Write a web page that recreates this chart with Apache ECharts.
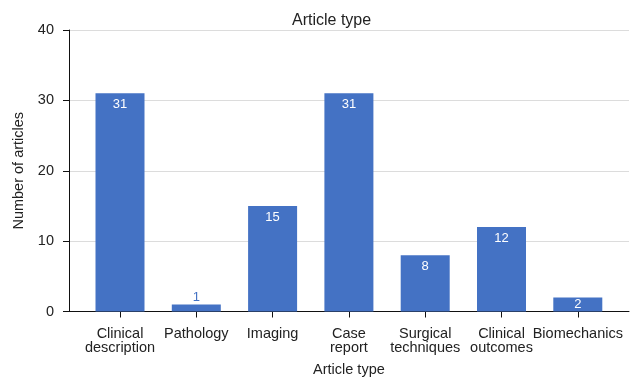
<!DOCTYPE html>
<html>
<head>
<meta charset="utf-8">
<script src="https://cdn.jsdelivr.net/npm/echarts@6/dist/echarts.min.js"></script>
<style>
  html, body { margin: 0; padding: 0; background: #fff; }
  #chart { width: 643px; height: 378px; }
</style>
</head>
<body>
<div id="chart"></div>
<script>
// Article counts per type
const categories = [
  'Clinical\ndescription', 'Pathology', 'Imaging', 'Case\nreport',
  'Surgical\ntechniques', 'Clinical\noutcomes', 'Biomechanics'
];
const counts = [31, 1, 15, 31, 8, 12, 2];
const yTicks = [0, 10, 20, 30, 40];

const BAR = '#4472C4';
const FONT = '"Liberation Sans", Arial, Helvetica, sans-serif';
const AXIS = '#111';

const barData = counts.map((v) => {
  let label;
  if (v < 2) {
    label = { position: 'top', distance: 1, color: BAR };
  } else if (v < 4) {
    label = { position: 'inside', color: '#fff' };
  } else {
    label = { position: 'insideTop', distance: 5, color: '#fff' };
  }
  return { value: v, label };
});

// Frame: the outer grid carries the y axis, gridlines and the full-width
// baseline; the inner grid holds the category bands with side padding.
const plotTop = 30, plotBottom = 66.5;

const chart = echarts.init(document.getElementById('chart'), null, { renderer: 'canvas' });
chart.setOption({
  animation: false,
  backgroundColor: '#fff',
  textStyle: { fontFamily: FONT },
  title: {
    text: 'Article type',
    left: 287,
    top: 8,
    textStyle: { fontFamily: FONT, fontSize: 16, fontWeight: 'normal', color: '#222' }
  },
  grid: [
    { left: 69, right: 14, top: plotTop, bottom: plotBottom, containLabel: false, outerBoundsMode: 'none' },
    { left: 81.85, right: 27.05, top: plotTop, bottom: plotBottom, containLabel: false, outerBoundsMode: 'none' }
  ],
  xAxis: [
    {
      gridIndex: 0,
      type: 'value',
      min: 0,
      max: 1,
      axisLine: { show: true, onZero: false, lineStyle: { color: AXIS, width: 1 } },
      axisTick: { show: false },
      axisLabel: { show: false },
      splitLine: { show: false }
    },
    {
      gridIndex: 1,
      type: 'category',
      data: categories,
      boundaryGap: true,
      name: 'Article type',
      nameLocation: 'middle',
      nameGap: 51,
      nameTextStyle: { fontFamily: FONT, fontSize: 14.5, color: '#222' },
      axisLine: { show: false },
      axisTick: { show: true, alignWithLabel: true, length: 6, lineStyle: { color: AXIS } },
      axisLabel: {
        interval: 0,
        hideOverlap: false,
        margin: 15,
        fontFamily: FONT,
        fontSize: 14.5,
        lineHeight: 14,
        color: '#222'
      }
    }
  ],
  yAxis: [
    {
      gridIndex: 0,
      type: 'value',
      min: 0,
      max: 40,
      interval: 10,
      name: 'Number of articles',
      nameLocation: 'middle',
      nameGap: 31,
      nameTextStyle: { fontFamily: FONT, fontSize: 14.5, color: '#222' },
      axisLine: { show: true, onZero: false, lineStyle: { color: AXIS, width: 1 } },
      axisTick: { show: true, length: 6, lineStyle: { color: AXIS } },
      splitLine: { show: true, lineStyle: { color: '#dcdcdc', width: 1 } },
      axisLabel: {
        margin: 15,
        fontFamily: FONT,
        fontSize: 14.5,
        color: '#222',
        formatter: (v) => (yTicks.includes(v) ? String(v) : '')
      }
    },
    {
      gridIndex: 1,
      type: 'value',
      min: 0,
      max: 40,
      interval: 10,
      show: false
    }
  ],
  series: [{
    type: 'bar',
    xAxisIndex: 1,
    yAxisIndex: 1,
    data: barData,
    barWidth: 49,
    itemStyle: { color: BAR },
    label: { show: true, fontFamily: FONT, fontSize: 13 }
  }]
});
</script>
</body>
</html>
